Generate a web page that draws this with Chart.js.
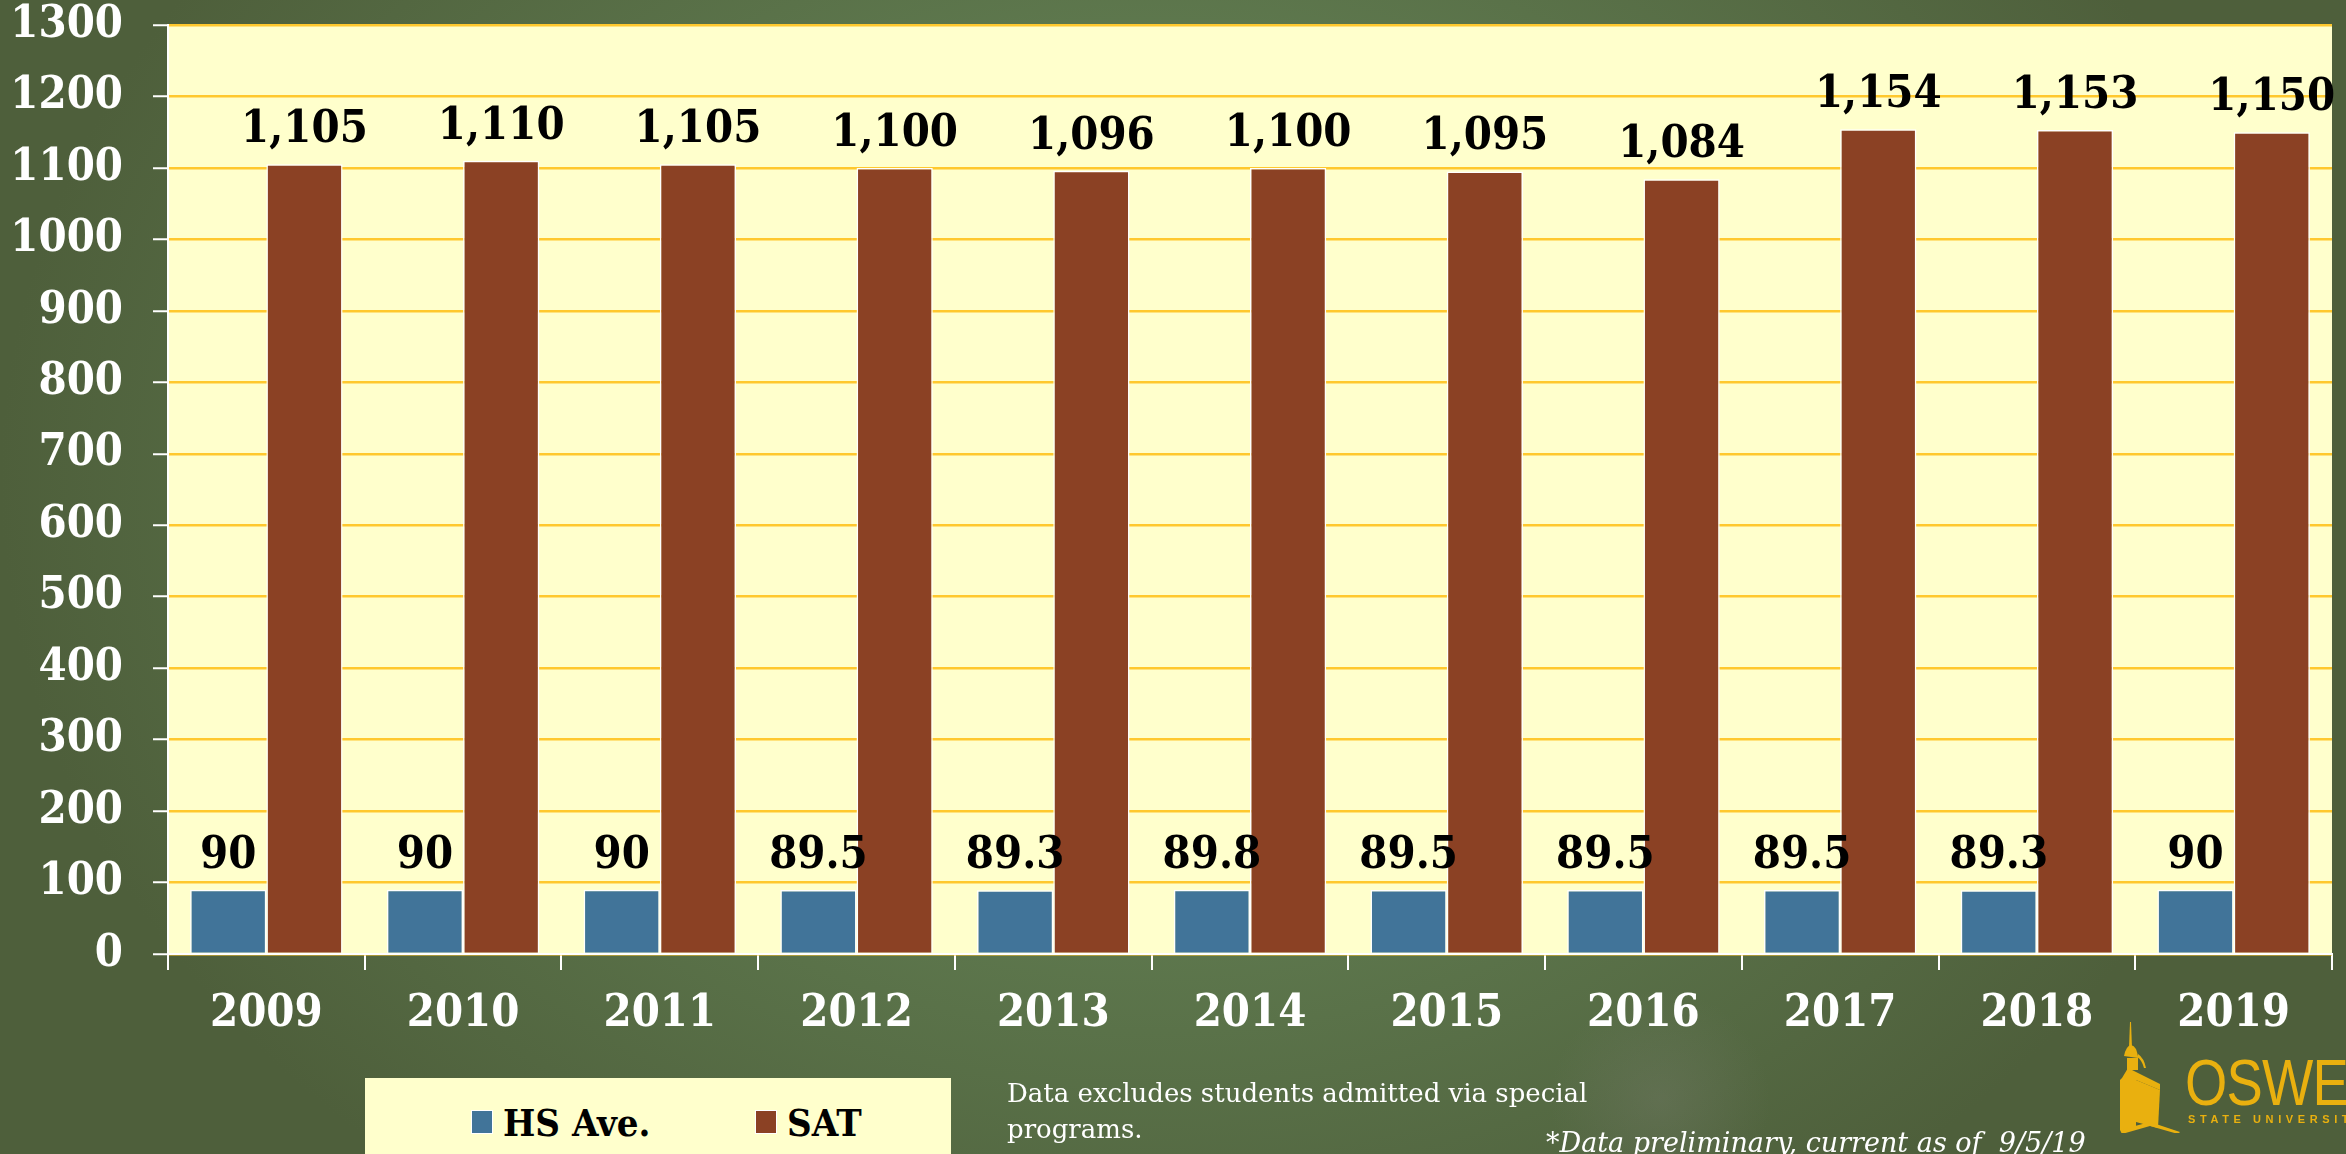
<!DOCTYPE html>
<html>
<head>
<meta charset="utf-8">
<script src="https://cdn.jsdelivr.net/npm/chart.js@4"></script>
<style>
  html, body { margin: 0; padding: 0; }
  body {
    width: 2346px; height: 1154px; overflow: hidden; position: relative;
    background:
      radial-gradient(circle 110px at 1660px 1100px, rgba(125,128,115,0.3), rgba(125,128,115,0) 100%),
      radial-gradient(ellipse 1150px 900px at 1150px 480px, #688457 0%, #5f7a4f 45%, #4e5f3b 100%);
    font-family: "DejaVu Serif Condensed", "DejaVu Serif", "Liberation Serif", serif;
  }
  #myChart { position: absolute; left: 0; top: 0; }
  #legend {
    position: absolute; left: 365px; top: 1078px; width: 586px; height: 90px;
    background: #ffffcc;
  }
  .item { position: absolute; top: 22px; height: 44px; display: flex; align-items: center;
    font-weight: bold; font-size: 38px; color: #000; }
  .swatch { width: 20px; height: 22px; margin-right: 10px; border: 1px solid #fff; }
  .note { position: absolute; color: #fff; font-family: "DejaVu Serif", serif; font-size: 26px; white-space: nowrap; }
  #logo { position: absolute; left: 2120px; top: 1018px; }
  .osw { position: absolute; left: 2185px; top: 1046px; color: #e9b00f; font-family: "Liberation Sans", sans-serif;
    font-size: 64px; transform: scaleX(0.85); transform-origin: left top; letter-spacing: -1px; white-space: nowrap; }
  .suny { position: absolute; left: 2188px; top: 1113px; color: #e9b00f; font-family: "Liberation Sans", sans-serif;
    font-size: 11px; font-weight: bold; letter-spacing: 4.6px; white-space: nowrap; }
</style>
</head>
<body>
<canvas id="myChart" width="2346" height="1154"></canvas>
<div id="legend"></div>
<div class="note" style="left:1007px; top:1078px;">Data excludes students admitted via special</div>
<div class="note" style="left:1007px; top:1114px;">programs.</div>
<div class="note" style="left:1546px; top:1127px; font-style:italic; font-size:27px;">*Data preliminary, current as of&nbsp; 9/5/19</div>
<svg id="logo" width="62" height="115" viewBox="0 0 62 115">
  <g fill="#e9b00f">
    <polygon points="10,4 11,4 12,30 9,30"/>
    <path d="M4,38 Q6,28 11,27 Q17,28 18,40 Z"/>
    <path d="M18,36 Q24,40 26,50 L24,50 Q22,42 17,39 Z"/>
    <polygon points="7,40 18,40 18,52 7,52"/>
    <polygon points="2,60 8,50 40,66 40,72 16,62 16,112 0,112 0,62"/>
    <polygon points="16,62 40,72 38,110 16,104"/>
    <polygon points="0,112 30,104 60,114 58,116 30,108 2,116"/>
  </g>
</svg>
<div class="osw">OSWEGO</div>
<div class="suny">STATE UNIVERSITY OF NEW YORK</div>

<script>
// chart values
const years = ['2009', '2010', '2011', '2012', '2013', '2014', '2015', '2016', '2017', '2018', '2019'];
const hsAve = [90, 90, 90, 89.5, 89.3, 89.8, 89.5, 89.5, 89.5, 89.3, 90];
const satScores = [1105, 1110, 1105, 1100, 1096, 1100, 1095, 1084, 1154, 1153, 1150];
const seriesNames = ['HS Ave.', 'SAT'];
const seriesColors = ['#417499', '#8b4124'];

const serif = '"DejaVu Serif Condensed", "DejaVu Serif", "Liberation Serif", serif';

// pale yellow plot background behind the bars
const plotBackground = {
    id: 'plotBackground',
    beforeDraw(chart) {
        const a = chart.chartArea;
        const ctx = chart.ctx;
        ctx.save();
        ctx.fillStyle = '#ffffcc';
        ctx.fillRect(a.left, a.top, a.right - a.left, a.bottom - a.top);
        ctx.restore();
    }
};

// value labels above each bar
const barLabels = {
    id: 'barLabels',
    afterDatasetsDraw(chart) {
        const ctx = chart.ctx;
        ctx.save();
        ctx.fillStyle = '#000';
        ctx.textAlign = 'center';
        ctx.textBaseline = 'alphabetic';
        ctx.font = 'bold 45px ' + serif;
        chart.data.datasets.forEach((ds, i) => {
            const meta = chart.getDatasetMeta(i);
            meta.data.forEach((bar, j) => {
                const v = ds.data[j];
                const txt = v >= 1000 ? v.toLocaleString('en-US') : String(v);
                ctx.fillText(txt, bar.x, bar.y - 22);
            });
        });
        ctx.restore();
    }
};

const config = {
    type: 'bar',
    data: {
        labels: years,
        datasets: [{
            label: seriesNames[0],
            data: hsAve,
            backgroundColor: seriesColors[0],
            borderColor: '#ffffff',
            borderWidth: 1.5
        }, {
            label: seriesNames[1],
            data: satScores,
            backgroundColor: seriesColors[1],
            borderColor: '#ffffff',
            borderWidth: 1.5
        }]
    },
    options: {
        responsive: false,
        animation: false,
        devicePixelRatio: 1,
        layout: { padding: { top: 25, right: 14, bottom: 0, left: 0 } },
        datasets: { bar: { categoryPercentage: 0.775, barPercentage: 1 } },
        plugins: {
            legend: { display: false },
            tooltip: { enabled: false }
        },
        scales: {
            x: {
                grid: { drawOnChartArea: false, tickLength: 16, tickColor: '#ffffff', lineWidth: 2 },
                border: { color: '#ffffff', width: 2 },
                ticks: { color: '#ffffff', font: { family: serif, size: 45, weight: 'bold' }, padding: 17 },
                afterFit(scale) { scale.height = 200; }
            },
            y: {
                min: 0,
                max: 1300,
                ticks: {
                    stepSize: 100,
                    color: '#ffffff',
                    font: { family: serif, size: 45, weight: 'bold' },
                    padding: 30,
                    callback: (v) => String(v)
                },
                grid: { color: '#ffc82e', lineWidth: 2.5, tickLength: 15, tickColor: '#ffffff', tickWidth: 2 },
                border: { color: '#ffffff', width: 2 },
                afterFit(scale) {
                    scale.width = 168;
                    scale.paddingTop = 0;
                    scale.paddingBottom = 0;
                }
            }
        }
    },
    plugins: [plotBackground, barLabels]
};

const myChart = new Chart(document.getElementById('myChart'), config);

// legend box built from the datasets
const legendBox = document.getElementById('legend');
const itemLeft = [106, 390];
myChart.data.datasets.forEach((ds, i) => {
    const item = document.createElement('div');
    item.className = 'item';
    item.style.left = itemLeft[i] + 'px';
    const sw = document.createElement('span');
    sw.className = 'swatch';
    sw.style.background = ds.backgroundColor;
    item.appendChild(sw);
    item.appendChild(document.createTextNode(ds.label));
    legendBox.appendChild(item);
});
</script>
</body>
</html>
